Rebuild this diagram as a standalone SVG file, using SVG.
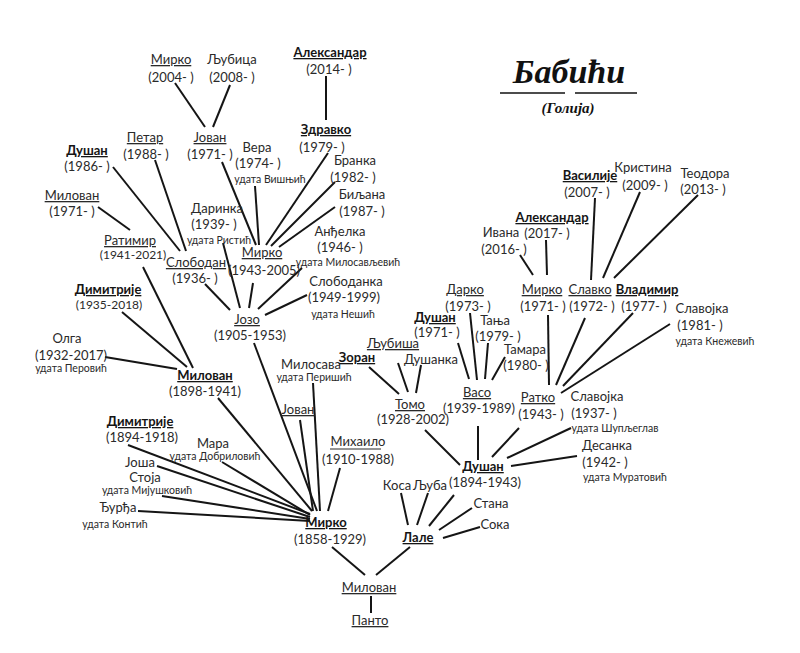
<svg xmlns="http://www.w3.org/2000/svg" width="800" height="653" viewBox="0 0 800 653">
<style>
text{font-family:Lato,"Open Sans","Liberation Sans",sans-serif;font-size:13px;fill:#2a2a2a;text-anchor:middle}
.u{text-decoration:underline}
.b{font-weight:bold;fill:#151515}
.s{font-size:10.5px}
.d{font-size:12px}
#connectors line{stroke:#151515;stroke-width:2}
text.title{font-family:"Liberation Serif",serif;font-style:italic;font-weight:bold;fill:#111}
text.t1{font-size:34px}
text.t2{font-size:15px}
</style>
<rect width="800" height="653" fill="#fff"/>
<g id="title">
<text class="title t1" x="569" y="83">Бабићи</text>
<line x1="500" y1="93" x2="565" y2="93" stroke="#111" stroke-width="1.5"/>
<line x1="575" y1="93" x2="637" y2="93" stroke="#111" stroke-width="1.5"/>
<text class="title t2" x="568" y="113">(Голија)</text>
</g>
<g id="connectors">
<line x1="175" y1="83" x2="205" y2="127"/>
<line x1="230" y1="85" x2="213" y2="127"/>
<line x1="326" y1="76" x2="326" y2="120"/>
<line x1="222" y1="162" x2="256" y2="245"/>
<line x1="255" y1="186" x2="259" y2="245"/>
<line x1="328" y1="153" x2="266" y2="245"/>
<line x1="335" y1="182" x2="271" y2="246"/>
<line x1="335" y1="207" x2="279" y2="247"/>
<line x1="155" y1="160" x2="186" y2="251"/>
<line x1="113" y1="167" x2="180" y2="251"/>
<line x1="98" y1="207" x2="130" y2="230"/>
<line x1="223" y1="243" x2="240" y2="308"/>
<line x1="253" y1="283" x2="249" y2="308"/>
<line x1="205" y1="284" x2="230" y2="310"/>
<line x1="302" y1="268" x2="258" y2="309"/>
<line x1="307" y1="295" x2="265" y2="315"/>
<line x1="143" y1="267" x2="193" y2="368"/>
<line x1="122" y1="312" x2="187" y2="367"/>
<line x1="105" y1="357" x2="177" y2="369"/>
<line x1="254" y1="343" x2="317" y2="511"/>
<line x1="218" y1="398" x2="312" y2="511"/>
<line x1="300" y1="420" x2="313" y2="511"/>
<line x1="313" y1="383" x2="320" y2="511"/>
<line x1="340" y1="468" x2="328" y2="511"/>
<line x1="128" y1="445" x2="310" y2="514"/>
<line x1="222" y1="462" x2="310" y2="515"/>
<line x1="157" y1="466" x2="310" y2="517"/>
<line x1="162" y1="496" x2="310" y2="519"/>
<line x1="138" y1="511" x2="310" y2="521"/>
<line x1="332" y1="547" x2="365" y2="575"/>
<line x1="410" y1="547" x2="376" y2="575"/>
<line x1="371" y1="596" x2="371" y2="613"/>
<line x1="401" y1="493" x2="408" y2="525"/>
<line x1="428" y1="493" x2="417" y2="525"/>
<line x1="454" y1="495" x2="429" y2="526"/>
<line x1="472" y1="508" x2="439" y2="530"/>
<line x1="480" y1="527" x2="443" y2="538"/>
<line x1="425" y1="430" x2="460" y2="465"/>
<line x1="478" y1="426" x2="478" y2="460"/>
<line x1="519" y1="428" x2="492" y2="457"/>
<line x1="571" y1="428" x2="507" y2="458"/>
<line x1="577" y1="456" x2="511" y2="466"/>
<line x1="369" y1="367" x2="399" y2="394"/>
<line x1="398" y1="363" x2="408" y2="392"/>
<line x1="421" y1="365" x2="416" y2="393"/>
<line x1="458" y1="343" x2="469" y2="379"/>
<line x1="470" y1="313" x2="477" y2="380"/>
<line x1="488" y1="343" x2="485" y2="379"/>
<line x1="505" y1="357" x2="492" y2="380"/>
<line x1="548" y1="315" x2="549" y2="385"/>
<line x1="585" y1="318" x2="556" y2="385"/>
<line x1="633" y1="313" x2="563" y2="386"/>
<line x1="670" y1="324" x2="561" y2="393"/>
<line x1="520" y1="255" x2="533" y2="275"/>
<line x1="546" y1="240" x2="547" y2="275"/>
<line x1="595" y1="198" x2="591" y2="280"/>
<line x1="640" y1="192" x2="603" y2="278"/>
<line x1="698" y1="195" x2="614" y2="278"/>
</g>
<g id="p-mirko2004"><text class="u" x="171" y="64">Мирко</text><text x="171" y="82">(2004- )</text></g>
<g id="p-ljubica"><text x="232" y="64">Љубица</text><text x="232" y="82">(2008- )</text></g>
<g id="p-aleksandar2014"><text class="u b" x="330" y="57">Александар</text><text x="329" y="74">(2014- )</text></g>
<g id="p-zdravko"><text class="u b" x="326" y="134">Здравко</text><text x="322" y="152">(1979- )</text></g>
<g id="p-petar"><text class="u" x="145" y="142">Петар</text><text x="146" y="159">(1988- )</text></g>
<g id="p-jovan1971"><text class="u" x="210" y="142">Јован</text><text x="210" y="159">(1971- )</text></g>
<g id="p-vera"><text x="257" y="152">Вера</text><text x="258" y="168">(1974- )</text><text class="s" x="270" y="183">удата Вишњић</text></g>
<g id="p-branka"><text x="355" y="165">Бранка</text><text x="353" y="182">(1982- )</text></g>
<g id="p-dusan1986"><text class="u b" x="87" y="155">Душан</text><text x="87" y="171">(1986- )</text></g>
<g id="p-biljana"><text x="362" y="199">Биљана</text><text x="362" y="216">(1987- )</text></g>
<g id="p-milovan1971"><text class="u" x="72" y="200">Милован</text><text x="72" y="216">(1971- )</text></g>
<g id="p-darinka"><text x="217" y="213">Даринка</text><text x="214" y="229">(1939- )</text><text class="s" x="219" y="244">удата Ристић</text></g>
<g id="p-ratimir"><text class="u" x="130" y="245">Ратимир</text><text class="d" x="133" y="259">(1941-2021)</text></g>
<g id="p-andjelka"><text x="340" y="236">Анђелка</text><text x="340" y="252">(1946- )</text><text class="s" x="348" y="266">удата Милосављевић</text></g>
<g id="p-mirko1943"><text class="u" x="262" y="257">Мирко</text><text x="264" y="275">(1943-2005)</text></g>
<g id="p-slobodan"><text class="u" x="196" y="267">Слободан</text><text x="195" y="283">(1936- )</text></g>
<g id="p-slobodanka"><text x="346" y="286">Слободанка</text><text x="344" y="302">(1949-1999)</text><text class="s" x="343" y="318">удата Нешић</text></g>
<g id="p-dimitrije1935"><text class="u b" x="108" y="294">Димитрије</text><text class="d" x="109" y="309">(1935-2018)</text></g>
<g id="p-jozo"><text class="u" x="247" y="324">Јозо</text><text x="250" y="340">(1905-1953)</text></g>
<g id="p-olga"><text x="67" y="343">Олга</text><text x="71" y="360">(1932-2017)</text><text class="s" x="71" y="372">удата Перовић</text></g>
<g id="p-milovan1898"><text class="u b" x="205" y="380">Милован</text><text x="205" y="396">(1898-1941)</text></g>
<g id="p-milosava"><text x="311" y="369">Милосава</text><text class="s" x="314" y="381">удата Перишић</text></g>
<g id="p-jovan"><text class="u" x="298" y="414">Јован</text></g>
<g id="p-mihailo"><text x="358" y="446">Михаило</text><line x1="330" y1="449" x2="381" y2="449" stroke="#2a2a2a" stroke-width="1"/><text x="358" y="464">(1910-1988)</text></g>
<g id="p-dimitrije1894"><text class="u b" x="140" y="426">Димитрије</text><text x="142" y="442">(1894-1918)</text></g>
<g id="p-mara"><text x="213" y="448">Мара</text><text class="s" x="215" y="460">удата Добриловић</text></g>
<g id="p-josa"><text x="140" y="467">Јоша</text></g>
<g id="p-stoja"><text x="145" y="482">Стоја</text><text class="s" x="147" y="494">удата Мијушковић</text></g>
<g id="p-djurdja"><text x="118" y="512">Ђурђа</text><text class="s" x="115" y="528">удата Контић</text></g>
<g id="p-mirko1858"><text class="u b" x="326" y="527">Мирко</text><text x="330" y="544">(1858-1929)</text></g>
<g id="p-milovan"><text class="u" x="369" y="592">Милован</text></g>
<g id="p-panto"><text class="u" x="370" y="625">Панто</text></g>
<g id="p-lale"><text class="u b" x="418" y="542">Лале</text></g>
<g id="p-kosa"><text x="397" y="490">Коса</text></g>
<g id="p-ljuba"><text x="430" y="490">Љуба</text></g>
<g id="p-stana"><text x="491" y="508">Стана</text></g>
<g id="p-soka"><text x="495" y="529">Сока</text></g>
<g id="p-dusan1894"><text class="u b" x="483" y="471">Душан</text><text x="485" y="487">(1894-1943)</text></g>
<g id="p-vasilije"><text class="u b" x="590" y="180">Василије</text><text x="587" y="197">(2007- )</text></g>
<g id="p-kristina"><text x="643" y="172">Кристина</text><text x="645" y="190">(2009- )</text></g>
<g id="p-teodora"><text x="705" y="178">Теодора</text><text x="703" y="194">(2013- )</text></g>
<g id="p-aleksandar2017"><text class="u b" x="552" y="222">Александар</text><text x="547" y="238">(2017- )</text></g>
<g id="p-ivana"><text x="501" y="237">Ивана</text><text x="504" y="254">(2016- )</text></g>
<g id="p-mirko1971"><text class="u" x="542" y="294">Мирко</text><text x="543" y="311">(1971- )</text></g>
<g id="p-slavko"><text class="u" x="590" y="294">Славко</text><text x="592" y="311">(1972- )</text></g>
<g id="p-vladimir"><text class="u b" x="647" y="294">Владимир</text><text x="644" y="311">(1977- )</text></g>
<g id="p-slavojka1981"><text x="702" y="313">Славојка</text><text x="700" y="330">(1981- )</text><text class="s" x="715" y="345">удата Кнежевић</text></g>
<g id="p-darko"><text class="u" x="465" y="294">Дарко</text><text x="468" y="311">(1973- )</text></g>
<g id="p-dusan1971"><text class="u b" x="435" y="322">Душан</text><text x="437" y="337">(1971- )</text></g>
<g id="p-tanja"><text x="495" y="325">Тања</text><text x="498" y="341">(1979- )</text></g>
<g id="p-tamara"><text x="525" y="354">Тамара</text><text x="526" y="370">(1980- )</text></g>
<g id="p-ljubisa"><text class="u" x="393" y="348">Љубиша</text></g>
<g id="p-zoran"><text class="u b" x="357" y="362">Зоран</text></g>
<g id="p-dusanka"><text x="431" y="364">Душанка</text></g>
<g id="p-tomo"><text class="u" x="410" y="409">Томо</text><text x="413" y="424">(1928-2002)</text></g>
<g id="p-vaso"><text class="u" x="477" y="397">Васо</text><text x="479" y="413">(1939-1989)</text></g>
<g id="p-ratko"><text class="u" x="538" y="402">Ратко</text><text x="541" y="419">(1943- )</text></g>
<g id="p-slavojka1937"><text x="597" y="401">Славојка</text><text x="594" y="418">(1937- )</text><text class="s" x="615" y="432">удата Шупљеглав</text></g>
<g id="p-desanka"><text x="607" y="450">Десанка</text><text x="605" y="467">(1942- )</text><text class="s" x="625" y="481">удата Муратовић</text></g>
</svg>
